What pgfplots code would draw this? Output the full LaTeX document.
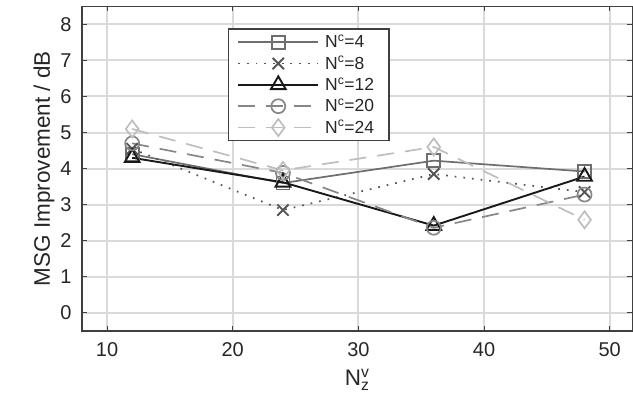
\documentclass[border=0pt]{standalone}
\usepackage{fontspec}
\setmainfont{Liberation Sans}
\usepackage{pgfplots}
\pgfplotsset{compat=1.18}

\definecolor{axisgray}{RGB}{64,64,64}
\definecolor{textgray}{RGB}{38,38,38}
\definecolor{gridgray}{RGB}{218,218,218}
\definecolor{cA}{RGB}{110,110,110}
\definecolor{cB}{RGB}{85,85,85}
\definecolor{cC}{RGB}{25,25,25}
\definecolor{cD}{RGB}{135,135,135}
\definecolor{cE}{RGB}{190,190,190}

\begin{document}
\begin{tikzpicture}
\begin{axis}[
  name=ax,
  scale only axis,
  width=551pt, height=325pt,
  xmin=8, xmax=51.8,
  ymin=-0.5, ymax=8.5,
  xtick={10,20,30,40,50},
  ytick={0,1,2,3,4,5,6,7,8},
  tick align=inside,
  major tick length=5pt,
  tick style={axisgray, line width=1pt},
  axis line style={axisgray, line width=1.3pt},
  grid=major,
  grid style={draw=gridgray, line width=2pt},
  /pgf/number format/assume math mode=true,
  ticklabel style={font=\fontsize{20}{22}\selectfont, text=textgray},
  xticklabel style={yshift=-8pt},
  yticklabel style={xshift=-7pt},
  xlabel={N$_{\mathrm{z}}^{\mathrm{v}}$},
  ylabel={MSG Improvement / dB},
  label style={font=\fontsize{22.5}{25}\selectfont, text=textgray},
  xlabel style={yshift=-6pt},
  ylabel style={yshift=-1pt},
  legend cell align=left,
  legend style={at={(0.265,0.932)}, anchor=north west,
    draw=axisgray, line width=1.3pt, fill=white,
    font=\fontsize{17.5}{20}\selectfont, text=textgray,
    row sep=3pt, inner xsep=9pt, inner ysep=4pt,
    nodes={inner xsep=6pt}},
  legend image code/.code={%
    \draw[mark repeat=2, mark phase=2, #1]
      plot coordinates {(0pt,0pt) (40pt,0pt) (80pt,0pt)};},
  every axis plot/.append style={line width=1.7pt},
  clip=false,
]
\addplot[cA, solid, mark=square, mark size=6.5pt,
  mark options={solid, line width=1.7pt}]
  coordinates {(12,4.40) (24,3.60) (36,4.22) (48,3.92)};
\addlegendentry{N$^{\mathrm{c}}$=4}

\addplot[cB, dash pattern=on 1.7pt off 7pt, mark=x, mark size=8pt,
  mark options={solid, line width=1.9pt}]
  coordinates {(12,4.55) (24,2.85) (36,3.85) (48,3.35)};
\addlegendentry{N$^{\mathrm{c}}$=8}

\addplot[cC, solid, line width=1.9pt, mark=triangle, mark size=8.5pt,
  mark options={solid, line width=1.9pt}]
  coordinates {(12,4.30) (24,3.62) (36,2.42) (48,3.78)};
\addlegendentry{N$^{\mathrm{c}}$=12}

\addplot[cD, dash pattern=on 17pt off 11pt, mark=o, mark size=7pt,
  mark options={solid, line width=1.7pt}]
  coordinates {(12,4.70) (24,3.88) (36,2.36) (48,3.28)};
\addlegendentry{N$^{\mathrm{c}}$=20}

\addplot[cE, dash pattern=on 17pt off 11pt, mark=diamond, mark size=8.5pt,
  mark options={solid, line width=1.7pt}]
  coordinates {(12,5.10) (24,3.95) (36,4.60) (48,2.58)};
\addlegendentry{N$^{\mathrm{c}}$=24}

\coordinate (sw) at (rel axis cs:0,0);
\coordinate (ne) at (rel axis cs:1,1);
\end{axis}
\pgfresetboundingbox
\path ([shift={(-82pt,-70pt)}]sw) rectangle ([shift={(0.7pt,6.3pt)}]ne);
\end{tikzpicture}
\end{document}
